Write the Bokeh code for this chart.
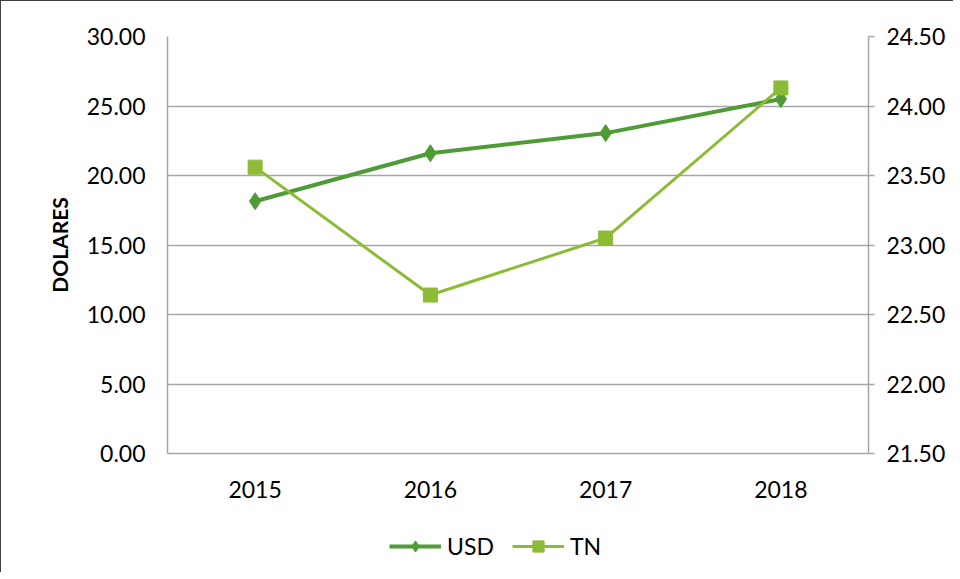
from bokeh.plotting import figure
from bokeh.layouts import column
from bokeh.models import (FactorRange, Range1d, LinearAxis, FixedTicker,
                          NumeralTickFormatter, Legend, LegendItem)
from bokeh.embed import file_html
from bokeh.resources import INLINE

years = ["2015", "2016", "2017", "2018"]
usd = [18.15, 21.6, 23.05, 25.5]
tn = [23.56, 22.64, 23.05, 24.13]
left_ticks = [0, 5, 10, 15, 20, 25, 30]
right_ticks = [21.5, 22.0, 22.5, 23.0, 23.5, 24.0, 24.5]
series_names = ["USD", "TN"]

USD_COLOR = "#4f9b35"
TN_COLOR = "#8cbb35"
GRID = "#a6a6a6"
FONT = "Lato"
FS = "23px"

W = 952
H1 = 505
H2 = 66

xr = FactorRange(factors=years)
p = figure(width=W, height=H1, x_range=xr,
           y_range=Range1d(0, 30), output_backend="svg", toolbar_location=None,
           min_border_left=166, min_border_right=85, min_border_top=35,
           min_border_bottom=H1 - 452)
p.extra_y_ranges = {"tn": Range1d(21.5, 24.5)}
p.outline_line_color = None
p.background_fill_color = "white"
p.border_fill_color = "white"

# grid
p.xgrid.grid_line_color = None
p.ygrid.grid_line_color = GRID
p.ygrid.grid_line_width = 1.5
p.ygrid.ticker = FixedTicker(ticks=left_ticks)

# left axis
ya = p.yaxis[0]
ya.ticker = FixedTicker(ticks=left_ticks)
ya.formatter = NumeralTickFormatter(format="0.00")
ya.axis_line_color = GRID
ya.axis_line_width = 1.5
ya.major_tick_line_color = None
ya.minor_tick_line_color = None
ya.major_label_text_font = FONT
ya.major_label_text_font_size = FS
ya.major_label_text_color = "#000000"
ya.major_label_standoff = 16
ya.axis_label = "DOLARES"
ya.axis_label_text_font = FONT
ya.axis_label_text_font_size = "21px"
ya.axis_label_text_font_style = "bold"
ya.axis_label_text_color = "#000000"
ya.axis_label_standoff = 12

# right axis
ra = LinearAxis(y_range_name="tn", ticker=FixedTicker(ticks=right_ticks),
                formatter=NumeralTickFormatter(format="0.00"))
ra.axis_line_color = GRID
ra.axis_line_width = 1.5
ra.major_tick_line_color = GRID
ra.major_tick_line_width = 1.5
ra.major_tick_out = 6
ra.major_tick_in = 0
ra.minor_tick_line_color = None
ra.major_label_text_font = FONT
ra.major_label_text_font_size = FS
ra.major_label_text_color = "#000000"
ra.major_label_standoff = 12
p.add_layout(ra, "right")

# x axis
xa = p.xaxis[0]
xa.axis_line_color = GRID
xa.axis_line_width = 1.5
xa.major_tick_line_color = None
xa.minor_tick_line_color = None
xa.major_label_text_font = FONT
xa.major_label_text_font_size = FS
xa.major_label_text_color = "#000000"
xa.major_label_standoff = 21

# series
p.line(years, usd, line_color=USD_COLOR, line_width=4)
p.scatter(years, usd, marker="diamond", size=17, fill_color=USD_COLOR,
          line_color=USD_COLOR)
p.line(years, tn, line_color=TN_COLOR, line_width=3, y_range_name="tn")
p.scatter(years, tn, marker="square", size=14, fill_color=TN_COLOR,
          line_color=TN_COLOR, y_range_name="tn")

# legend strip (separate figure; its series lie outside its range, so only
# the legend swatches show)
q = figure(width=W, height=H2, x_range=xr, y_range=Range1d(0, 1),
           output_backend="svg", toolbar_location=None,
           x_axis_location=None, y_axis_location=None,
           min_border=0)
q.outline_line_color = None
q.background_fill_color = "white"
q.border_fill_color = "white"
q.xgrid.grid_line_color = None
q.ygrid.grid_line_color = None
r1 = q.line(years, usd, line_color=USD_COLOR, line_width=4)
s1 = q.scatter(years, usd, marker="diamond", size=17,
               fill_color=USD_COLOR, line_color=USD_COLOR)
r2 = q.line(years, tn, line_color=TN_COLOR, line_width=3)
s2 = q.scatter(years, tn, marker="square", size=14,
               fill_color=TN_COLOR, line_color=TN_COLOR)
legend = Legend(items=[LegendItem(label=series_names[0], renderers=[r1, s1]),
                       LegendItem(label=series_names[1], renderers=[r2, s2])],
                orientation="horizontal", location=(222, 12),
                label_text_font=FONT, label_text_font_size=FS,
                label_text_color="#000000", border_line_color=None,
                background_fill_alpha=0, glyph_width=52, glyph_height=28,
                spacing=18, label_standoff=6, margin=0, padding=4)
q.add_layout(legend, "center")

layout = column(p, q, spacing=0)
layout.styles = {"border-left": "1.5px solid #404040", "border-top": "1.5px solid #404040"}

open("out.html", "w").write(file_html(layout, INLINE))
